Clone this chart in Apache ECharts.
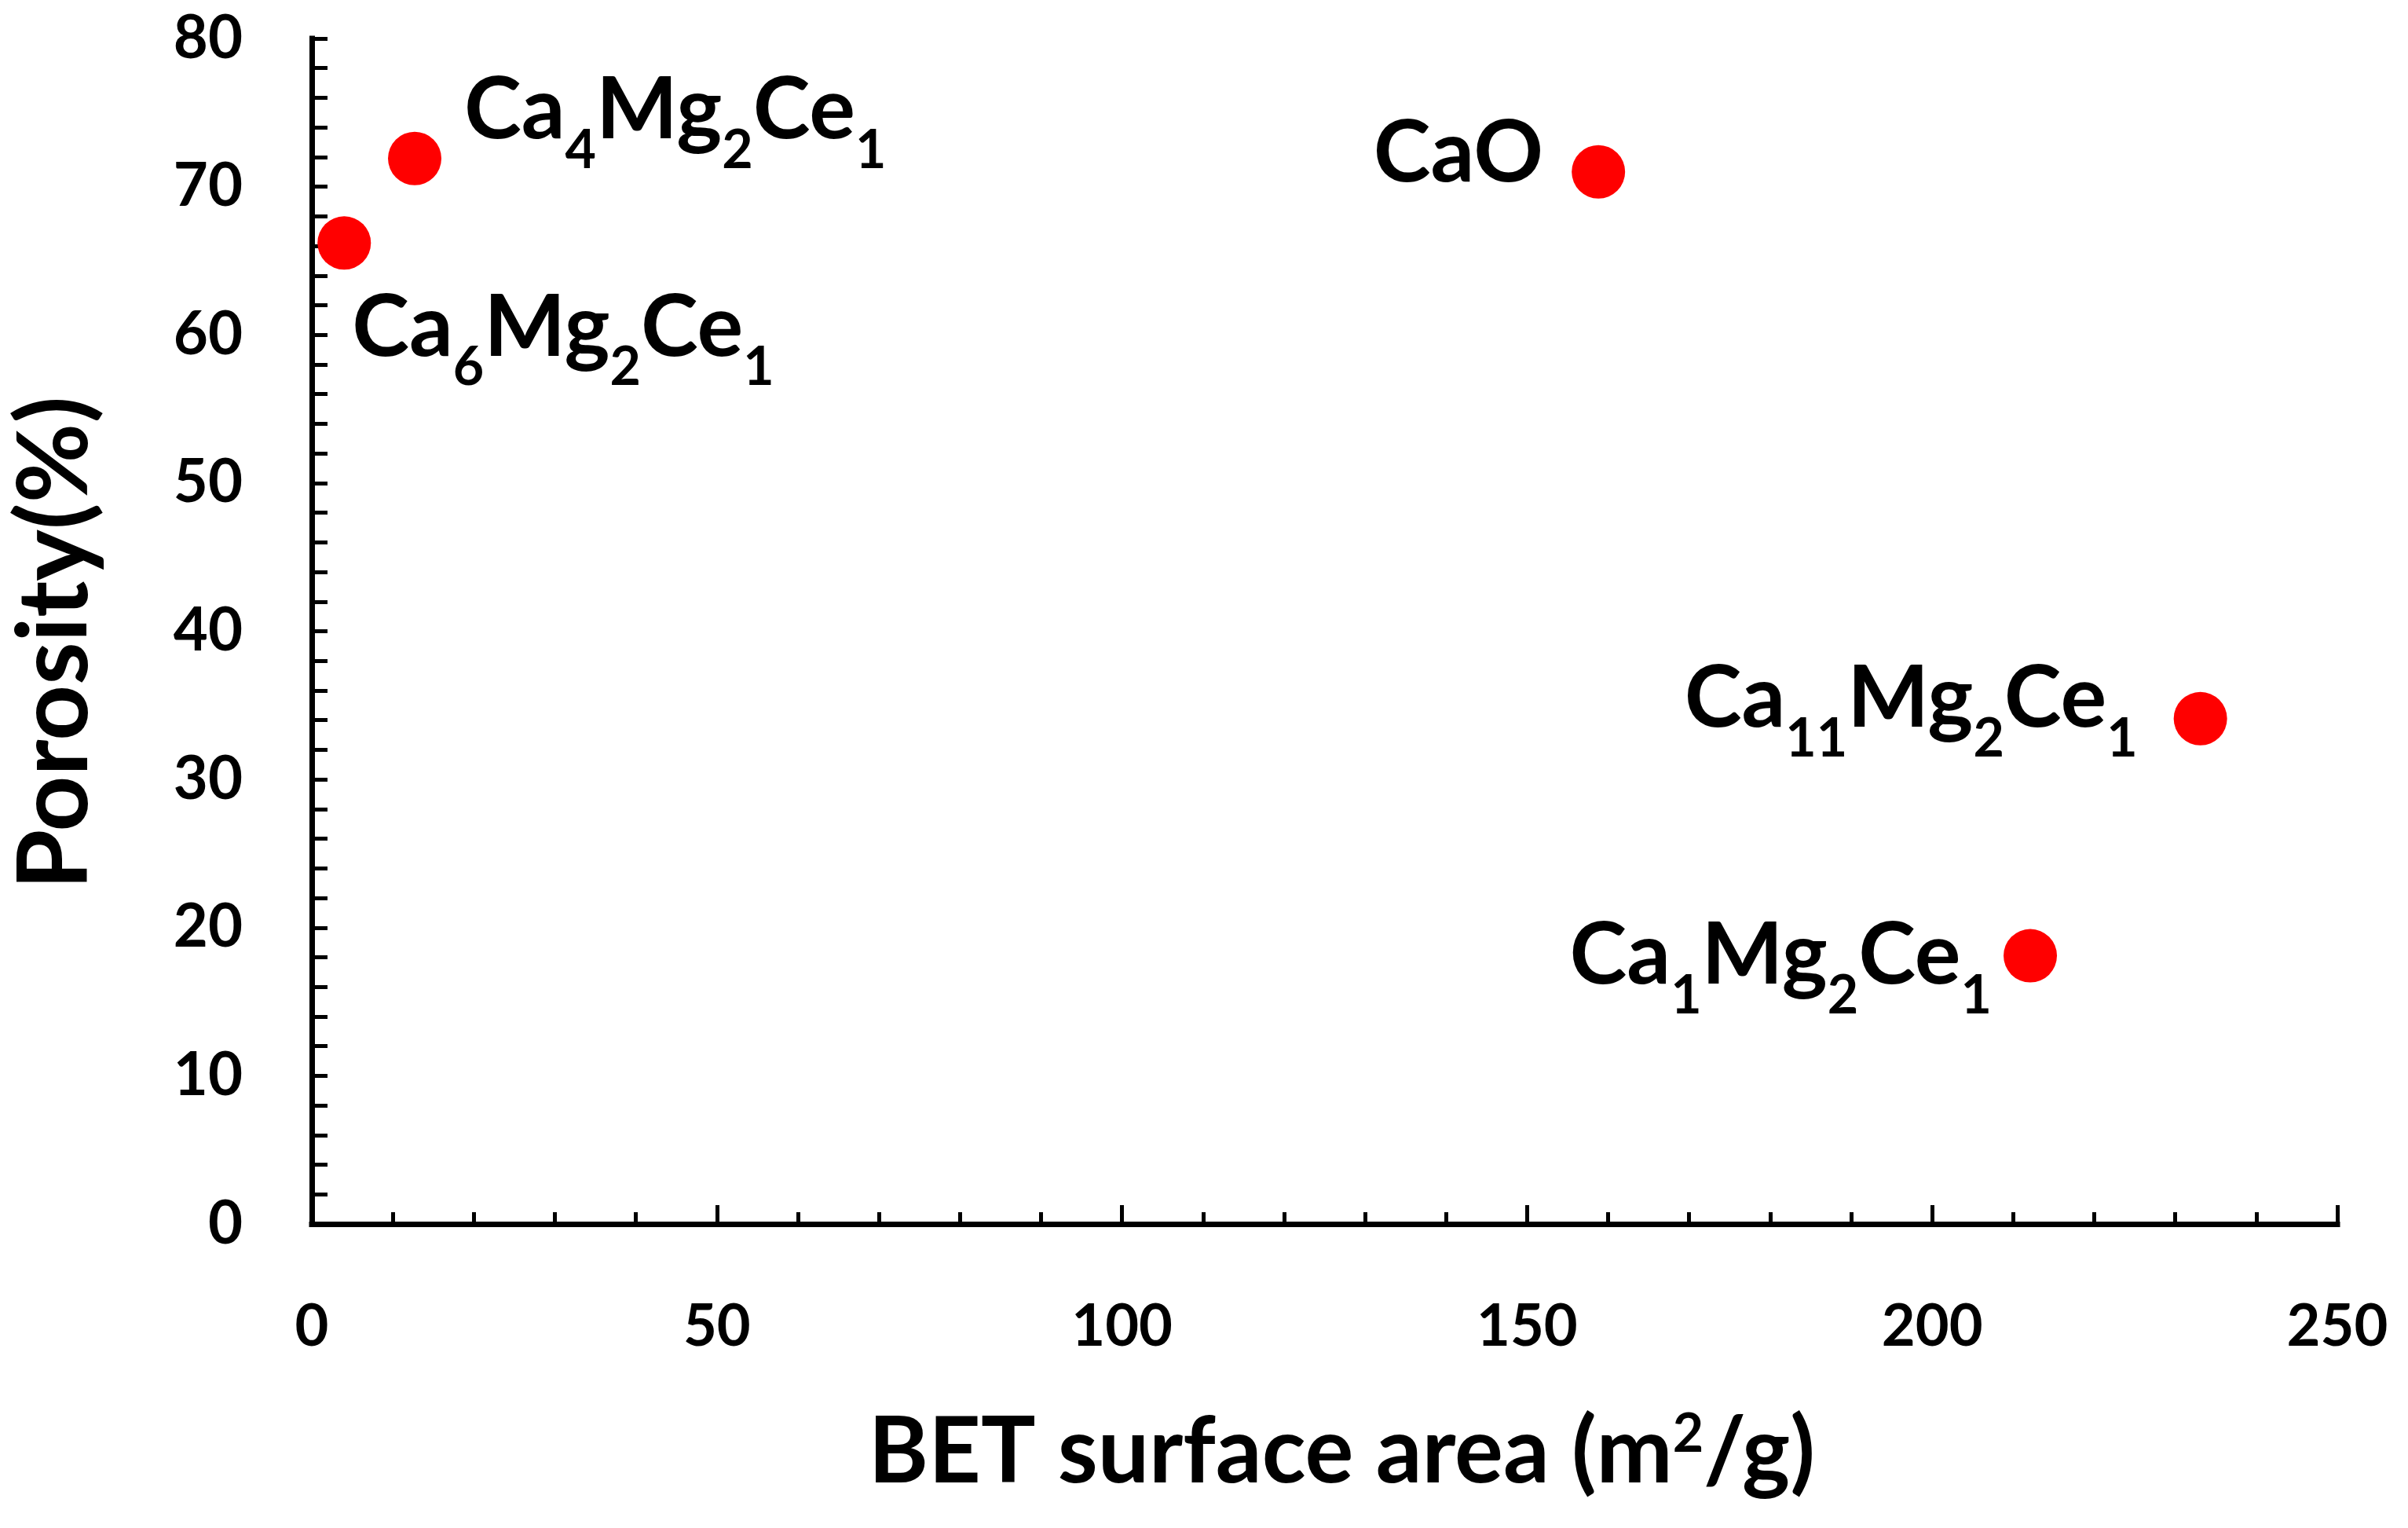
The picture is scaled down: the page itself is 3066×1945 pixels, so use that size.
<!DOCTYPE html>
<html>
<head>
<meta charset="utf-8">
<script src="https://cdn.jsdelivr.net/npm/echarts@6/dist/echarts.min.js"></script>
<style>
html,body{margin:0;padding:0;background:#fff;}
#chart{width:3066px;height:1945px;}
</style>
</head>
<body>
<div id="chart"></div>
<script>
// ---- data ----
const samples = ['Ca6Mg2Ce1', 'Ca4Mg2Ce1', 'CaO', 'Ca11Mg2Ce1', 'Ca1Mg2Ce1'];
const betArea = [4.0, 12.7, 158.8, 233.1, 212.1];
const porosity = [66.2, 71.9, 71.0, 34.1, 18.1];
const xTicks = [0, 50, 100, 150, 200, 250];
const yTicks = [0, 10, 20, 30, 40, 50, 60, 70, 80];

// ---- label layout (style only) ----
const labelAlign = ['left', 'left', 'right', 'right', 'right'];
const labelOffset = [[10, 108], [63, -61], [-70, -23], [-80, -25], [-49, 0]];

const FONT = 'Lato';
function toRich(name) {
  if (!/\d/.test(name)) return '{m|' + name + '}';
  return name.replace(/([^\d]+)(\d+)/g, '{m|$1}{s|$2}');
}

const chart = echarts.init(document.getElementById('chart'), null, {renderer: 'canvas'});
const pts = samples.map((n, i) => ({
  value: [betArea[i], porosity[i]],
  name: n,
  label: {
    show: true,
    position: 'inside',
    align: labelAlign[i],
    verticalAlign: 'middle',
    offset: labelOffset[i],
    formatter: () => toRich(n),
    rich: {
      m: {fontFamily: FONT, fontWeight: 'bold', fontSize: 110, lineHeight: 170, color: '#000', verticalAlign: 'middle'},
      s: {fontFamily: FONT, fontWeight: 'bold', fontSize: 68, lineHeight: 68, color: '#000', verticalAlign: 'bottom'}
    }
  }
}));

const option = {
  backgroundColor: '#fff',
  animation: false,
  grid: {left: 397, right: 90, top: 49, bottom: 387, containLabel: false, outerBoundsMode: 'none'},
  xAxis: {
    type: 'value', min: 0, max: 250, interval: 50,
    name: '{t|BET surface area (m}{sup|2}{t|/g)}',
    nameLocation: 'middle', nameGap: 224,
    nameTextStyle: {
      padding: [0, 0, 0, 44],
      rich: {
        t: {fontFamily: FONT, fontWeight: 'bold', fontSize: 116, color: '#000', lineHeight: 136, verticalAlign: 'middle'},
        sup: {fontFamily: FONT, fontWeight: 'bold', fontSize: 68, color: '#000', lineHeight: 68, verticalAlign: 'top', padding: [10, 0, 0, 0]}
      }
    },
    axisLine: {show: true, onZero: false, lineStyle: {color: '#000', width: 7, cap: 'square'}},
    axisTick: {show: true, inside: true, length: 24, lineStyle: {color: '#000', width: 5}},
    minorTick: {show: true, splitNumber: 5, length: 15, lineStyle: {color: '#000', width: 5}},
    splitLine: {show: false},
    axisLabel: {
      margin: 94, fontFamily: FONT, fontWeight: 'bold', fontSize: 74, color: '#000',
      formatter: v => xTicks.includes(v) ? String(v) : ''
    }
  },
  yAxis: {
    type: 'value', min: 0, max: 80, interval: 10,
    name: 'Porosity(%)',
    nameLocation: 'middle', nameRotate: 90, nameGap: 264,
    nameTextStyle: {fontFamily: FONT, fontWeight: 'bold', fontSize: 124, color: '#000', padding: [0, 30, 0, 0]},
    axisLine: {show: true, onZero: false, lineStyle: {color: '#000', width: 7, cap: 'square'}},
    axisTick: {show: true, inside: true, length: 20, lineStyle: {color: '#000', width: 5}},
    minorTick: {show: true, splitNumber: 5, length: 20, lineStyle: {color: '#000', width: 5}},
    splitLine: {show: false},
    axisLabel: {
      margin: 88, fontFamily: FONT, fontWeight: 'bold', fontSize: 76, color: '#000',
      formatter: v => yTicks.includes(v) ? String(v) : ''
    }
  },
  series: [{
    type: 'scatter',
    symbol: 'circle',
    symbolSize: 68,
    itemStyle: {color: '#FF0000', opacity: 1},
    data: pts
  }]
};
chart.setOption(option);
</script>
</body>
</html>
